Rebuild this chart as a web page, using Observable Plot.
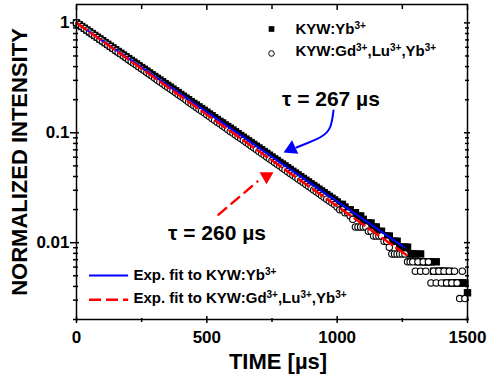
<!DOCTYPE html>
<html>
<head>
<meta charset="utf-8">
<script src="https://cdn.jsdelivr.net/npm/d3@7"></script>
<script src="https://cdn.jsdelivr.net/npm/@observablehq/plot@0.6"></script>
<style>
  html, body { margin: 0; padding: 0; background: #fff; }
  #chart svg { display: block; }
</style>
</head>
<body>
<div id="chart"></div>
<script>
// ---------------- DATA ----------------
const timeStep = 10; // µs between successive samples, starting at 0

// KYW:Yb3+ (filled squares), t = 0 ... 1500 µs
const kywYb = [
  1.000, 0.963, 0.928, 0.894, 0.861, 0.829, 0.799, 0.769, 0.741, 0.714,
  0.688, 0.662, 0.638, 0.614, 0.592, 0.570, 0.549, 0.529, 0.510, 0.491,
  0.473, 0.455, 0.439, 0.423, 0.407, 0.392, 0.378, 0.364, 0.350, 0.337,
  0.325, 0.313, 0.302, 0.291, 0.280, 0.270, 0.260, 0.250, 0.241, 0.232,
  0.223, 0.215, 0.207, 0.200, 0.192, 0.185, 0.179, 0.172, 0.166, 0.160,
  0.154, 0.148, 0.143, 0.137, 0.132, 0.127, 0.123, 0.118, 0.114, 0.110,
  0.106, 0.102, 0.0980, 0.0944, 0.0910, 0.0876, 0.0844, 0.0813, 0.0783, 0.0754,
  0.0727, 0.0700, 0.0674, 0.0649, 0.0625, 0.0602, 0.0580, 0.0559, 0.0538, 0.0519,
  0.0500, 0.0481, 0.0463, 0.0446, 0.0430, 0.0414, 0.0399, 0.0384, 0.0370, 0.0357,
  0.0343, 0.0331, 0.0319, 0.0307, 0.0296, 0.0285, 0.0274, 0.0264, 0.0254, 0.0245,
  0.0235, 0.0223, 0.0223, 0.0211, 0.0199, 0.0199, 0.0187, 0.0187, 0.0175, 0.0175,
  0.0163, 0.0151, 0.0151, 0.0151, 0.0139, 0.0139, 0.0127, 0.0127, 0.0115, 0.0115,
  0.0115, 0.0103, 0.0103, 0.0103, 0.0091, 0.0091, 0.0091, 0.0091, 0.0079, 0.0079,
  0.0079, 0.0067, 0.0079, 0.0067, 0.0067, 0.0067, 0.0067, 0.0055, 0.0067, 0.0055,
  0.0055, 0.0055, 0.0043, 0.0055, 0.0043, 0.0043, 0.0043, 0.0043, 0.0043, 0.0043,
  0.0035
];

// KYW:Gd3+,Lu3+,Yb3+ (open circles), t = 0 ... 1490 µs
const kywGdLuYb = [
  1.000, 0.962, 0.926, 0.891, 0.857, 0.825, 0.794, 0.764, 0.735, 0.707,
  0.681, 0.655, 0.630, 0.607, 0.584, 0.562, 0.540, 0.520, 0.500, 0.482,
  0.463, 0.446, 0.429, 0.413, 0.397, 0.382, 0.368, 0.354, 0.341, 0.328,
  0.315, 0.303, 0.292, 0.281, 0.270, 0.260, 0.250, 0.241, 0.232, 0.223,
  0.215, 0.207, 0.199, 0.191, 0.184, 0.177, 0.170, 0.164, 0.158, 0.152,
  0.146, 0.141, 0.135, 0.130, 0.125, 0.121, 0.116, 0.112, 0.107, 0.103,
  0.0995, 0.0957, 0.0921, 0.0886, 0.0853, 0.0821, 0.0790, 0.0760, 0.0731, 0.0704,
  0.0677, 0.0651, 0.0627, 0.0603, 0.0580, 0.0559, 0.0537, 0.0517, 0.0498, 0.0479,
  0.0461, 0.0443, 0.0427, 0.0411, 0.0395, 0.0380, 0.0366, 0.0352, 0.0339, 0.0326,
  0.0314, 0.0302, 0.0290, 0.0280, 0.0269, 0.0259, 0.0249, 0.0240, 0.0231, 0.0222,
  0.0211, 0.0199, 0.0199, 0.0187, 0.0187, 0.0175, 0.0163, 0.0139, 0.0139, 0.0139,
  0.0139, 0.0139, 0.0127, 0.0127, 0.0115, 0.0115, 0.0115, 0.0115, 0.0103, 0.0103,
  0.0091, 0.0079, 0.0079, 0.0079, 0.0079, 0.0079, 0.0079, 0.0067, 0.0067, 0.0067,
  0.0055, 0.0067, 0.0055, 0.0067, 0.0055, 0.0067, 0.0043, 0.0055, 0.0043, 0.0055,
  0.0043, 0.0055, 0.0043, 0.0055, 0.0043, 0.0055, 0.0043, 0.0031, 0.0055, 0.0031
];

// Exponential fits (straight on the log axis): end points
const fitYbTime = [0, 1256];
const fitYbValue = [1.0, 0.0091];
const fitGdTime = [0, 1270];
const fitGdValue = [1.0, 0.0076];

// Axis ticks
const xMajorTicks = [0, 500, 1000, 1500];
const xMinorTicks = [250, 750, 1250];
const yMajorTicks = [0.01, 0.1, 1];
const yMinorTicks = [0.002, 0.003, 0.004, 0.005, 0.006, 0.007, 0.008, 0.009,
                     0.02, 0.03, 0.04, 0.05, 0.06, 0.07, 0.08, 0.09,
                     0.2, 0.3, 0.4, 0.5, 0.6, 0.7, 0.8, 0.9];

// Text
const xTitle = "TIME [µs]";
const yTitle = "NORMALIZED INTENSITY";
const seriesNames = ["KYW:Yb{3+}", "KYW:Gd{3+},Lu{3+},Yb{3+}"];
const fitNames = ["Exp. fit to KYW:Yb{3+}", "Exp. fit to KYW:Gd{3+},Lu{3+},Yb{3+}"];
const tauLabels = ["τ = 267 µs", "τ = 260 µs"];

// Annotation anchors (data coordinates: time µs, intensity)
const tau267Label = {t: 976, v: 0.201};
const tau267ArrowT = [986, 974, 940, 882, 844];
const tau267ArrowV = [0.1596, 0.1141, 0.0925, 0.0799, 0.0735];
const tau267Head = {t: 824, v: 0.0714};
const tau260Label = {t: 539, v: 0.01218};
const tau260ArrowT = [545, 694];
const tau260ArrowV = [0.0180, 0.0360];
const tau260Head = {t: 729, v: 0.0402};
const fitLegendT = [50, 200];
const fitLegendV = [0.00502, 0.00303];

// ---------------- CHART ----------------
const font = "'Liberation Sans', Arial, Helvetica, sans-serif";
const BLUE = "#0000ff", RED = "#ff0000";

const ybPts = kywYb.map((v, i) => ({t: i * timeStep, v}));
const gdPts = kywGdLuYb.map((v, i) => ({t: i * timeStep, v}));
const fitYb = fitYbTime.map((t, i) => ({t, v: fitYbValue[i]}));
const fitGd = fitGdTime.map((t, i) => ({t, v: fitGdValue[i]}));
const arrow267 = tau267ArrowT.map((t, i) => ({t, v: tau267ArrowV[i]}));
const arrow260 = tau260ArrowT.map((t, i) => ({t, v: tau260ArrowV[i]}));

const tickAxes = [
  Plot.axisX(xMajorTicks, {anchor: "bottom", tickSize: 7, dy: -3, fill: "none", strokeWidth: 1.5, label: null}),
  Plot.axisX(xMinorTicks, {anchor: "bottom", tickSize: 4, dy: -1, fill: "none", strokeWidth: 1.5, label: null}),
  Plot.axisX(xMajorTicks, {anchor: "top", tickSize: 5, dy: 5, fill: "none", strokeWidth: 1.5, label: null}),
  Plot.axisX(xMinorTicks, {anchor: "top", tickSize: 4, dy: 4, fill: "none", strokeWidth: 1.5, label: null}),
  Plot.axisY(yMajorTicks, {anchor: "left", tickSize: 9, dx: 3, fill: "none", strokeWidth: 1.5, label: null}),
  Plot.axisY(yMinorTicks, {anchor: "left", tickSize: 5, dx: 2, fill: "none", strokeWidth: 1.5, label: null}),
  Plot.axisY(yMajorTicks, {anchor: "right", tickSize: 6, dx: -4, fill: "none", strokeWidth: 1.5, label: null}),
  Plot.axisY(yMinorTicks, {anchor: "right", tickSize: 4, dx: -3, fill: "none", strokeWidth: 1.5, label: null}),
  Plot.axisX(xMajorTicks, {anchor: "bottom", tickSize: 0, tickPadding: 11, stroke: "none", fontSize: 17, label: null, tickFormat: d => String(d)}),
  Plot.axisY(yMajorTicks, {anchor: "left", tickSize: 0, tickPadding: 7, stroke: "none", fontSize: 17, label: null, tickFormat: d => String(d)})
];

const plot = Plot.plot({
  width: 487,
  height: 379,
  marginLeft: 76,
  marginRight: 20,
  marginTop: 4,
  marginBottom: 60,
  style: {fontFamily: font, fontWeight: "bold", fontSize: "15px", background: "#fff", color: "#000"},
  x: {domain: [0, 1500], label: null},
  y: {type: "log", domain: [0.002, 1.47], label: null},
  marks: [
    ...tickAxes,
    // data
    Plot.dot(ybPts, {x: "t", y: "v", symbol: "square", r: 4.2, fill: "#000"}),
    Plot.dot(gdPts, {x: "t", y: "v", symbol: "circle", r: 3.2, fill: "#fff", stroke: "#000", strokeWidth: 1.1}),
    // fits
    Plot.line(fitYb, {x: "t", y: "v", stroke: BLUE, strokeWidth: 2}),
    Plot.line(fitGd, {x: "t", y: "v", stroke: RED, strokeWidth: 2.5, strokeDasharray: "12,5"}),
    // annotations
    Plot.text([tauLabels[0]], {x: () => tau267Label.t, y: () => tau267Label.v, text: d => d, fontSize: 21, textAnchor: "middle", lineAnchor: "middle"}),
    Plot.line(arrow267, {x: "t", y: "v", stroke: BLUE, strokeWidth: 2, curve: "natural"}),
    Plot.dot([tau267Head], {x: "t", y: "v", symbol: "triangle", r: 5.5, rotate: 245, fill: BLUE}),
    Plot.text([tauLabels[1]], {x: () => tau260Label.t, y: () => tau260Label.v, text: d => d, fontSize: 21, textAnchor: "middle", lineAnchor: "middle"}),
    Plot.line(arrow260, {x: "t", y: "v", stroke: RED, strokeWidth: 2.5, strokeDasharray: "10,7"}),
    Plot.dot([tau260Head], {x: "t", y: "v", symbol: "triangle", r: 5.2, rotate: 180, fill: RED}),
    // top-right legend
    Plot.dot([0], {frameAnchor: "top-left", dx: 195, dy: 24.5, symbol: "square", r: 3.2, fill: "#000"}),
    Plot.dot([0], {frameAnchor: "top-left", dx: 195, dy: 49, symbol: "circle", r: 2.8, fill: "#fff", stroke: "#000", strokeWidth: 1}),
    Plot.text([seriesNames[0]], {frameAnchor: "top-left", dx: 219, dy: 25, text: d => d, fontSize: 15, textAnchor: "start", lineAnchor: "middle"}),
    Plot.text([seriesNames[1]], {frameAnchor: "top-left", dx: 219, dy: 47, text: d => d, fontSize: 15, textAnchor: "start", lineAnchor: "middle"}),
    // bottom-left legend
    Plot.ruleY([fitLegendV[0]], {x1: fitLegendT[0], x2: fitLegendT[1], stroke: BLUE, strokeWidth: 2}),
    Plot.ruleY([fitLegendV[1]], {x1: fitLegendT[0], x2: fitLegendT[1], stroke: RED, strokeWidth: 2.5, strokeDasharray: "12,5"}),
    Plot.text([fitNames[0]], {frameAnchor: "top-left", dx: 57, dy: 271, text: d => d, fontSize: 15, textAnchor: "start", lineAnchor: "middle"}),
    Plot.text([fitNames[1]], {frameAnchor: "top-left", dx: 57, dy: 294, text: d => d, fontSize: 15, textAnchor: "start", lineAnchor: "middle"}),
    // axis titles
    Plot.text([xTitle], {frameAnchor: "bottom", dx: 6, dy: 49, text: d => d, fontSize: 22, textAnchor: "middle", lineAnchor: "bottom"}),
    Plot.text([yTitle], {frameAnchor: "left", dx: -56.5, rotate: -90, text: d => d, fontSize: 22, textAnchor: "middle", lineAnchor: "middle"}),
    Plot.frame({stroke: "#000", strokeWidth: 1.5})
  ]
});

// Superscripts: "{...}" in a label becomes a raised, smaller tspan
const NS = "http://www.w3.org/2000/svg";
plot.querySelectorAll("text").forEach(el => {
  const s = el.textContent;
  if (!s.includes("{")) return;
  while (el.firstChild) el.removeChild(el.firstChild);
  const parts = s.split(/\{([^}]*)\}/);
  let shift = 0;
  parts.forEach((p, i) => {
    if (p === "") return;
    const up = i % 2 === 1;
    const target = up ? -5.5 : 0;
    const ts = document.createElementNS(NS, "tspan");
    if (target !== shift) ts.setAttribute("dy", target - shift);
    shift = target;
    if (up) ts.setAttribute("font-size", "10px");
    ts.textContent = p;
    el.appendChild(ts);
  });
});

document.getElementById("chart").appendChild(plot);
</script>
</body>
</html>
